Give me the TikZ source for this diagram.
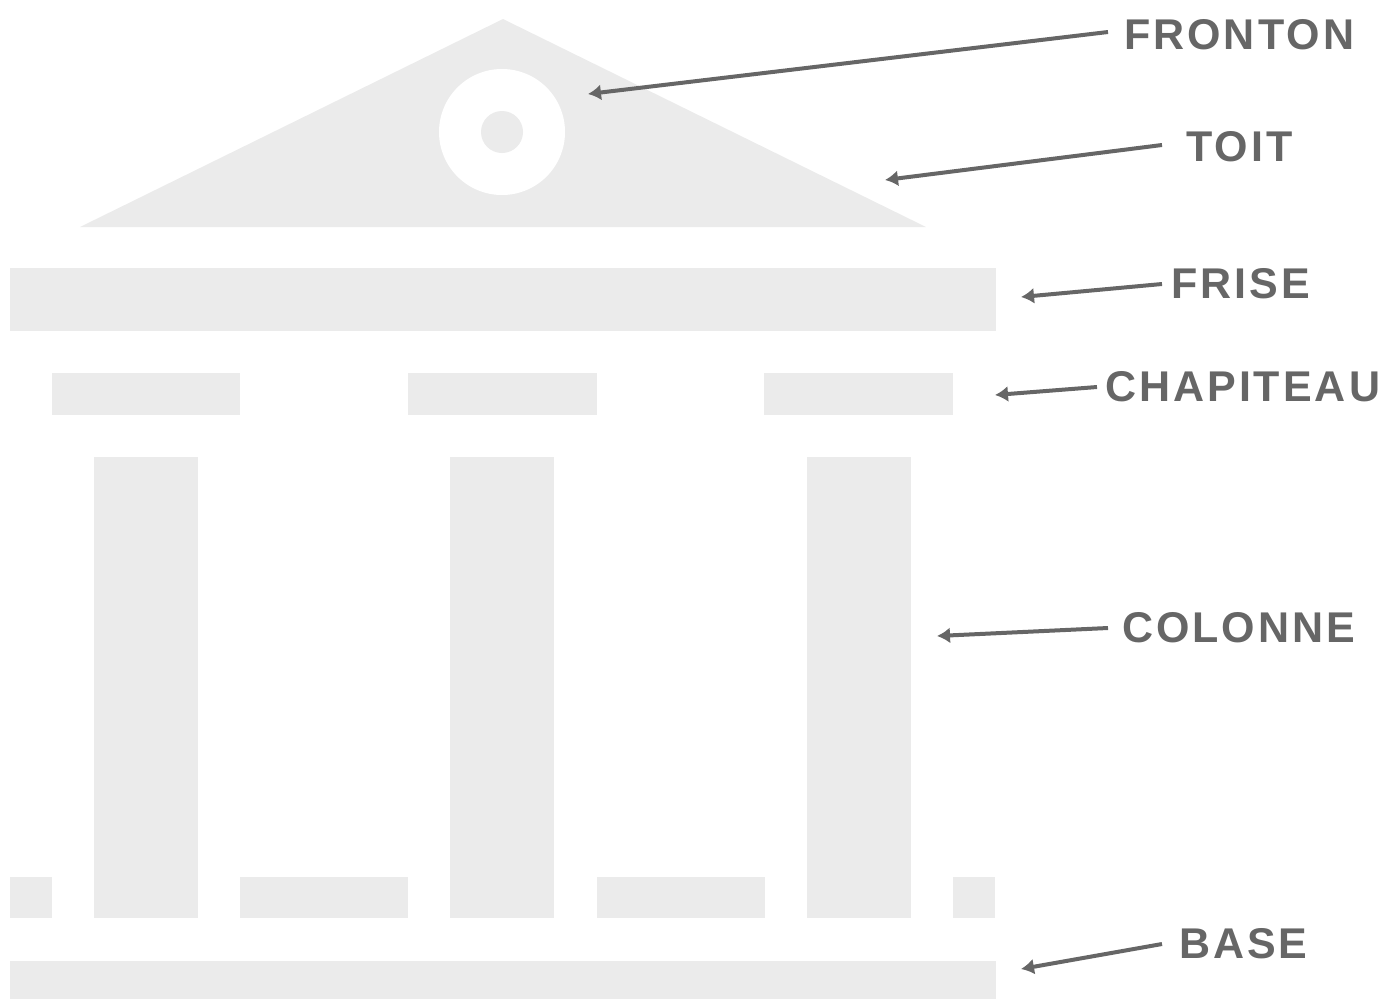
\documentclass[tikz,border=0pt]{standalone}
\usepackage{fontspec}
\setmainfont{Liberation Sans}
\newfontfamily\lblfont[LetterSpace=7]{Liberation Sans}
\usetikzlibrary{arrows.meta}
\definecolor{stone}{HTML}{EBEBEB}
\definecolor{ink}{HTML}{666666}
\tikzset{
  part/.style={fill=stone, draw=none},
  lbl/.style={anchor=west, inner sep=0pt, text=ink, font=\lblfont\bfseries\fontsize{43}{43}\selectfont},
  arr/.style={draw=ink, line width=4pt, -{Latex[length=13pt,width=16pt]}}
}
\begin{document}
\begin{tikzpicture}[x=1pt,y=-1pt]
\useasboundingbox (0,0) rectangle (1384,999);
% roof
\fill[stone] (80,227) -- (503,19) -- (926,227) -- cycle;
\fill[white] (502,132) circle (63);
\fill[stone] (502,132) circle (21);
% frieze
\fill[part] (10,268) rectangle (996,331);
% capitals
\fill[part] (52,373) rectangle (240,415);
\fill[part] (408,373) rectangle (597,415);
\fill[part] (764,373) rectangle (953,415);
% columns
\fill[part] (94,457) rectangle (198,918);
\fill[part] (450,457) rectangle (554,918);
\fill[part] (807,457) rectangle (911,918);
% plinth pieces
\fill[part] (10,877) rectangle (52,918);
\fill[part] (240,877) rectangle (408,918);
\fill[part] (597,877) rectangle (765,918);
\fill[part] (953,877) rectangle (995,918);
% base
\fill[part] (10,961) rectangle (996,999);
% labels
\node[lbl] (fronton) at (1124,35) {FRONTON};
\node[lbl] (toit) at (1186,147) {TOIT};
\node[lbl] (frise) at (1171,284) {FRISE};
\node[lbl] (chapiteau) at (1105,387) {CHAPITEAU};
\node[lbl] (colonne) at (1122,628) {COLONNE};
\node[lbl] (base) at (1179,944) {BASE};
% arrow tips
\coordinate (tF) at (588,94);
\coordinate (tT) at (885,180);
\coordinate (tR) at (1021,297);
\coordinate (tC) at (995,395);
\coordinate (tL) at (937,636);
\coordinate (tB) at (1021,969);
\draw[arr] ([xshift=-16pt,yshift=3pt]fronton.west) -- (tF);
\draw[arr] ([xshift=-24pt,yshift=2pt]toit.west) -- (tT);
\draw[arr] ([xshift=-9pt]frise.west) -- (tR);
\draw[arr] ([xshift=-8pt]chapiteau.west) -- (tC);
\draw[arr] ([xshift=-14pt]colonne.west) -- (tL);
\draw[arr] ([xshift=-17pt]base.west) -- (tB);
\end{tikzpicture}
\end{document}
